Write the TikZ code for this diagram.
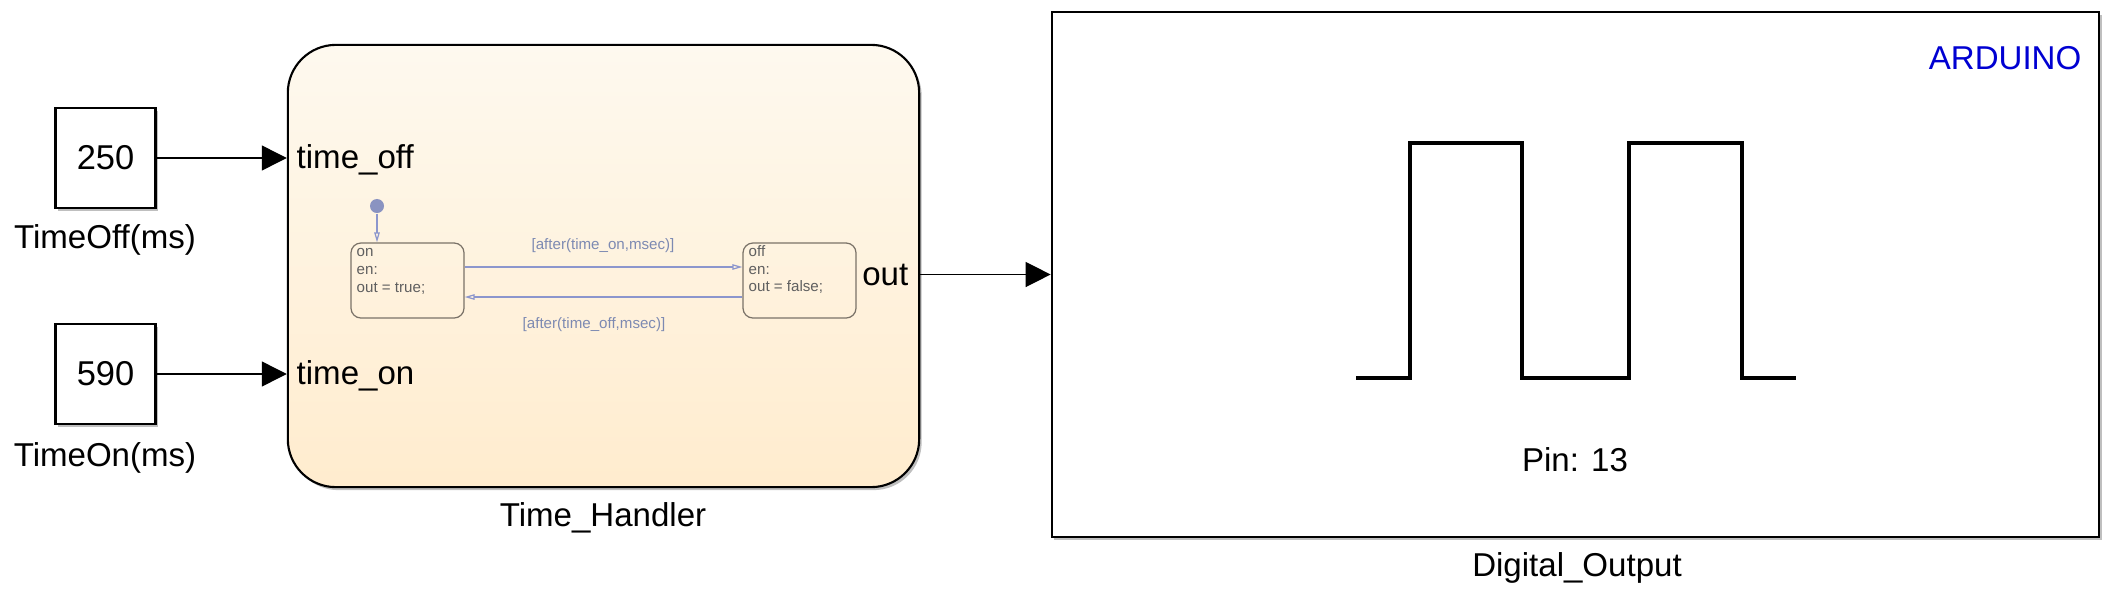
\documentclass[tikz,border=0pt]{standalone}
\usepackage{fontspec}
\setmainfont{Liberation Sans}
\usetikzlibrary{arrows.meta,shadows}

\definecolor{chartTop}{RGB}{254,249,239}
\definecolor{chartBottom}{RGB}{255,236,206}
\definecolor{stateLine}{RGB}{122,114,104}
\definecolor{stateText}{RGB}{95,95,95}
\definecolor{transLine}{RGB}{140,150,205}
\definecolor{transText}{RGB}{125,138,178}
\definecolor{arduinoBlue}{RGB}{0,0,210}

\tikzset{
  bigtext/.style={font=\fontsize{9.4}{11}\selectfont, inner sep=0pt},
  smalltext/.style={font=\fontsize{4.3}{5}\selectfont, inner sep=0pt},
  blockshadow/.style={drop shadow={shadow xshift=0.025cm, shadow yshift=-0.03cm, opacity=0.25, fill=black}},
  constblock/.style={draw, line width=0.6pt, fill=white, minimum width=1cm, minimum height=1cm,
    inner sep=0pt, blockshadow, font=\fontsize{9.8}{11}\selectfont},
  chartblock/.style={draw, line width=0.6pt, rounded corners=0.48cm, top color=chartTop,
    bottom color=chartBottom, minimum width=6.31cm, minimum height=4.42cm, blockshadow},
  stateblock/.style={draw=stateLine, line width=0.35pt, rounded corners=0.1cm,
    minimum width=1.13cm, minimum height=0.75cm},
  signal/.style={line width=0.4pt, -{Triangle[length=0.25cm, width=0.25cm]}},
  trans/.style={draw=transLine, line width=0.35pt, -{Triangle[open, length=0.1cm, width=0.055cm]}},
}

\begin{document}
\begin{tikzpicture}[x=0.01cm, y=-0.01cm]
  \useasboundingbox (0,0) rectangle (2106,594);
  \pgfmathsetmacro{\pulseLow}{378}  % baseline of the pulses
  \pgfmathsetmacro{\pulseHigh}{143}  % top of the pulses

  % constant inputs
  \node[constblock] (toff) at (105.5,158) {250};
  \node[bigtext] (tofflabel) at (105,240) {TimeOff(ms)};
  \node[constblock] (ton) at (105.5,374) {590};
  \node[bigtext] (tonlabel) at (105,458) {TimeOn(ms)};

  % chart block
  \node[chartblock] (chart) at (603.5,266) {};
  \node[bigtext] (chartlabel) at (603,518) {Time\_Handler};
  \node[bigtext, anchor=west] (inoff) at (296,160) {time\_off};
  \node[bigtext, anchor=west] (inon) at (296,376) {time\_on};

  \draw[signal] (toff) -- (chart.west |- toff);
  \draw[signal] (ton) -- (chart.west |- ton);

  % states inside the chart
  \node[circle, fill=transLine!85!gray, inner sep=0pt, minimum size=0.14cm] (init) at (377,206) {};
  \node[stateblock] (son) at (407.5,280.5) {};
  \node[stateblock] (soff) at (799.5,280.5) {};
  \node[smalltext, text=stateText, align=left, anchor=north west] (sontext) at (356,248)
    {on\\en:\\out = true;};
  \node[smalltext, text=stateText, align=left, anchor=north west] (sofftext) at (748,245)
    {off\\en:\\out = false;};

  \draw[trans] (init) -- (son.north -| init);
  \draw[trans] ([yshift=0.135cm]son.east) -- ([yshift=0.135cm]soff.west);
  \draw[trans] ([yshift=-0.165cm]soff.west) -- ([yshift=-0.165cm]son.east);
  \node[smalltext, text=transText] (tonguard) at (603,246) {[after(time\_on,msec)]};
  \node[smalltext, text=transText] (toffguard) at (594,325) {[after(time\_off,msec)]};

  % arduino output block
  \node[draw, line width=0.6pt, fill=white, minimum width=10.47cm, minimum height=5.25cm,
    blockshadow] (ard) at (1575.5,274.5) {};
  \node[bigtext, text=arduinoBlue, anchor=east] (ardname) at (2082,58) {ARDUINO};
  \node[bigtext] (pin) at (1575,460) {Pin: 13};
  \node[bigtext] (ardlabel) at (1577,568) {Digital\_Output};
  \node[bigtext, anchor=east] (outport) at (909,275) {out};

  \draw[signal] (chart.east |- ard) -- (ard.west);

  \draw[line width=0.9pt] (1356,\pulseLow) -- (1410,\pulseLow) -- (1410,\pulseHigh)
    -- (1522,\pulseHigh) -- (1522,\pulseLow) -- (1629,\pulseLow) -- (1629,\pulseHigh)
    -- (1742,\pulseHigh) -- (1742,\pulseLow) -- (1796,\pulseLow);
\end{tikzpicture}
\end{document}
